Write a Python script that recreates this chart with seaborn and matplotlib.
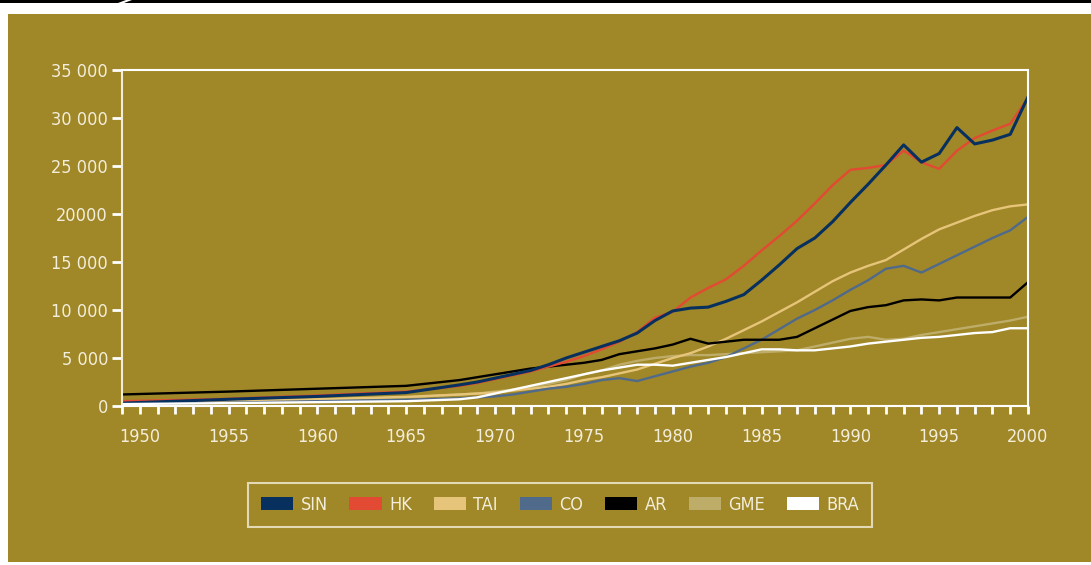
import numpy as np
import pandas as pd
import seaborn as sns
import matplotlib.pyplot as plt
from matplotlib.patches import Patch, Rectangle, Polygon

years = [1949, 1955, 1960, 1965, 1968, 1969] + list(range(1970, 2001))

sin = [300, 700, 1000, 1400, 2200, 2500, 2900, 3300, 3700, 4300, 5000, 5600, 6200, 6800, 7600, 8900,
       9900, 10200, 10300, 10900, 11600, 13100, 14700, 16400, 17500, 19200, 21200, 23100, 25100,
       27200, 25400, 26300, 29000, 27300, 27700, 28300, 32200]
hk = [500, 750, 1100, 1500, 2100, 2400, 2800, 3200, 3600, 4100, 4600, 5200, 5900, 6700, 7700, 9200,
      9800, 11300, 12300, 13200, 14600, 16200, 17700, 19300, 21100, 23000, 24600, 24800, 25100,
      26600, 25400, 24700, 26600, 27900, 28700, 29400, 32100]
tai = [400, 500, 700, 950, 1200, 1300, 1400, 1600, 1800, 2000, 2300, 2700, 3000, 3400, 3800, 4400,
       5000, 5500, 6200, 7000, 7900, 8800, 9800, 10800, 11900, 13000, 13900, 14600, 15200,
       16300, 17400, 18400, 19100, 19800, 20400, 20800, 21000]
co = [200, 350, 500, 650, 800, 900, 1000, 1200, 1500, 1800, 2000, 2300, 2700, 2900, 2600, 3100,
      3600, 4100, 4500, 5100, 6000, 6900, 8000, 9100, 10000, 11000, 12100, 13100, 14300,
      14600, 13900, 14800, 15700, 16600, 17500, 18300, 19700]
ar = [1200, 1500, 1800, 2100, 2700, 3000, 3300, 3600, 3900, 4100, 4300, 4500, 4800, 5400, 5700, 6000,
      6400, 7000, 6500, 6700, 6900, 6900, 6900, 7200, 8100, 9000, 9900, 10300, 10500,
      11000, 11100, 11000, 11300, 11300, 11300, 11300, 12900]
gme = [400, 500, 650, 900, 1200, 1300, 1500, 1700, 2000, 2300, 2700, 3300, 3700, 4300, 4700, 5000,
       5200, 5300, 5300, 5400, 5500, 5600, 5700, 5800, 6200, 6600, 7000, 7200, 6900,
       7000, 7400, 7700, 8000, 8300, 8600, 8900, 9300]
bra = [200, 300, 400, 500, 700, 900, 1300, 1700, 2100, 2500, 2900, 3300, 3700, 4000, 4300, 4300,
       4200, 4500, 4800, 5100, 5500, 5900, 5900, 5800, 5800, 6000, 6200, 6500, 6700,
       6900, 7100, 7200, 7400, 7600, 7700, 8100, 8100]

countries = ["SIN", "HK", "TAI", "CO", "AR", "GME", "BRA"]
colors = ["#07305f", "#e24a33", "#e6c57a", "#4f6a8b", "#000000", "#bead69", "#ffffff"]
ytick_vals = [0, 5000, 10000, 15000, 20000, 25000, 30000, 35000]
ytick_labels = ["0", "5 000", "10 000", "15 000", "20000", "25 000", "30 000", "35 000"]
xtick_vals = [1950, 1955, 1960, 1965, 1970, 1975, 1980, 1985, 1990, 1995, 2000]

gold = "#a08727"
cream = "#f3eedb"

series = dict(zip(countries, [sin, hk, tai, co, ar, gme, bra]))
df = pd.DataFrame([(c, y, v) for c in countries for y, v in zip(years, series[c])],
                  columns=["country", "year", "value"])

sns.set_style("white")
plt.rcParams['font.family'] = ['DejaVu Sans']
plt.rcParams['font.stretch'] = 'condensed'

fig = plt.figure(figsize=(10.91, 5.65), dpi=100)
fig.patch.set_facecolor("white")
# gold panel and the black rule on top
fig.patches.append(Rectangle((8 / 1091, 3 / 565), 1, 548 / 565, transform=fig.transFigure,
                             facecolor=gold, edgecolor="none", zorder=-10))
fig.patches.append(Rectangle((0, 1 - 3 / 565), 1, 3 / 565, transform=fig.transFigure,
                             facecolor="black", edgecolor="none", zorder=-9))
fig.patches.append(Polygon([(118 / 1091, 1 - 3 / 565), (124 / 1091, 1 - 3 / 565),
                            (132 / 1091, 1), (126 / 1091, 1)], closed=True,
                           transform=fig.transFigure, facecolor="white", edgecolor="none", zorder=-8))

ax = fig.add_axes([122 / 1091, 1 - 406 / 565, 906 / 1091, 336 / 565])
ax.set_zorder(5)
ax.set_facecolor("none")

palette = dict(zip(countries, colors))
order = ["GME", "TAI", "CO", "AR", "HK", "SIN", "BRA"]
for c in order:
    sub = df[df.country == c]
    lw = 2.2 if c == "SIN" else 1.7
    sns.lineplot(data=sub, x="year", y="value", color=palette[c], linewidth=lw, ax=ax, legend=False)

ax.set_xlim(1949, 2000)
ax.set_ylim(0, 35000)
ax.set_xticks(xtick_vals)
ax.set_xticklabels([str(x) for x in xtick_vals])
ax.set_xticks(range(1949, 2001), minor=True)
ax.set_yticks(ytick_vals)
ax.set_yticklabels(ytick_labels)
ax.set_xlabel("")
ax.set_ylabel("")

for s in ax.spines.values():
    s.set_color("white")
    s.set_linewidth(1.5)
ax.spines["left"].set_color(cream)

ax.tick_params(axis="x", which="both", bottom=True, direction="out", length=6, width=2, color="white")
ax.tick_params(axis="x", which="major", pad=10, labelsize=13, labelcolor=cream)
ax.tick_params(axis="y", left=True, direction="out", length=7, width=2, color="white",
               labelsize=13, labelcolor=cream, pad=3)

handles = [Patch(facecolor=col, edgecolor="none", label=c) for c, col in zip(countries, colors)]
leg = fig.legend(handles=handles, loc="center", bbox_to_anchor=(560 / 1091, 1 - 505 / 565),
                 ncol=7, frameon=True, fancybox=False, fontsize=13, handlelength=1.8,
                 handleheight=0.75, handletextpad=0.4, columnspacing=1.2, borderpad=0.7)
leg.get_frame().set_facecolor("none")
leg.get_frame().set_edgecolor(cream)
leg.get_frame().set_linewidth(1.5)
for t in leg.get_texts():
    t.set_color(cream)

plt.savefig("out.png", dpi=100, facecolor=fig.get_facecolor())
